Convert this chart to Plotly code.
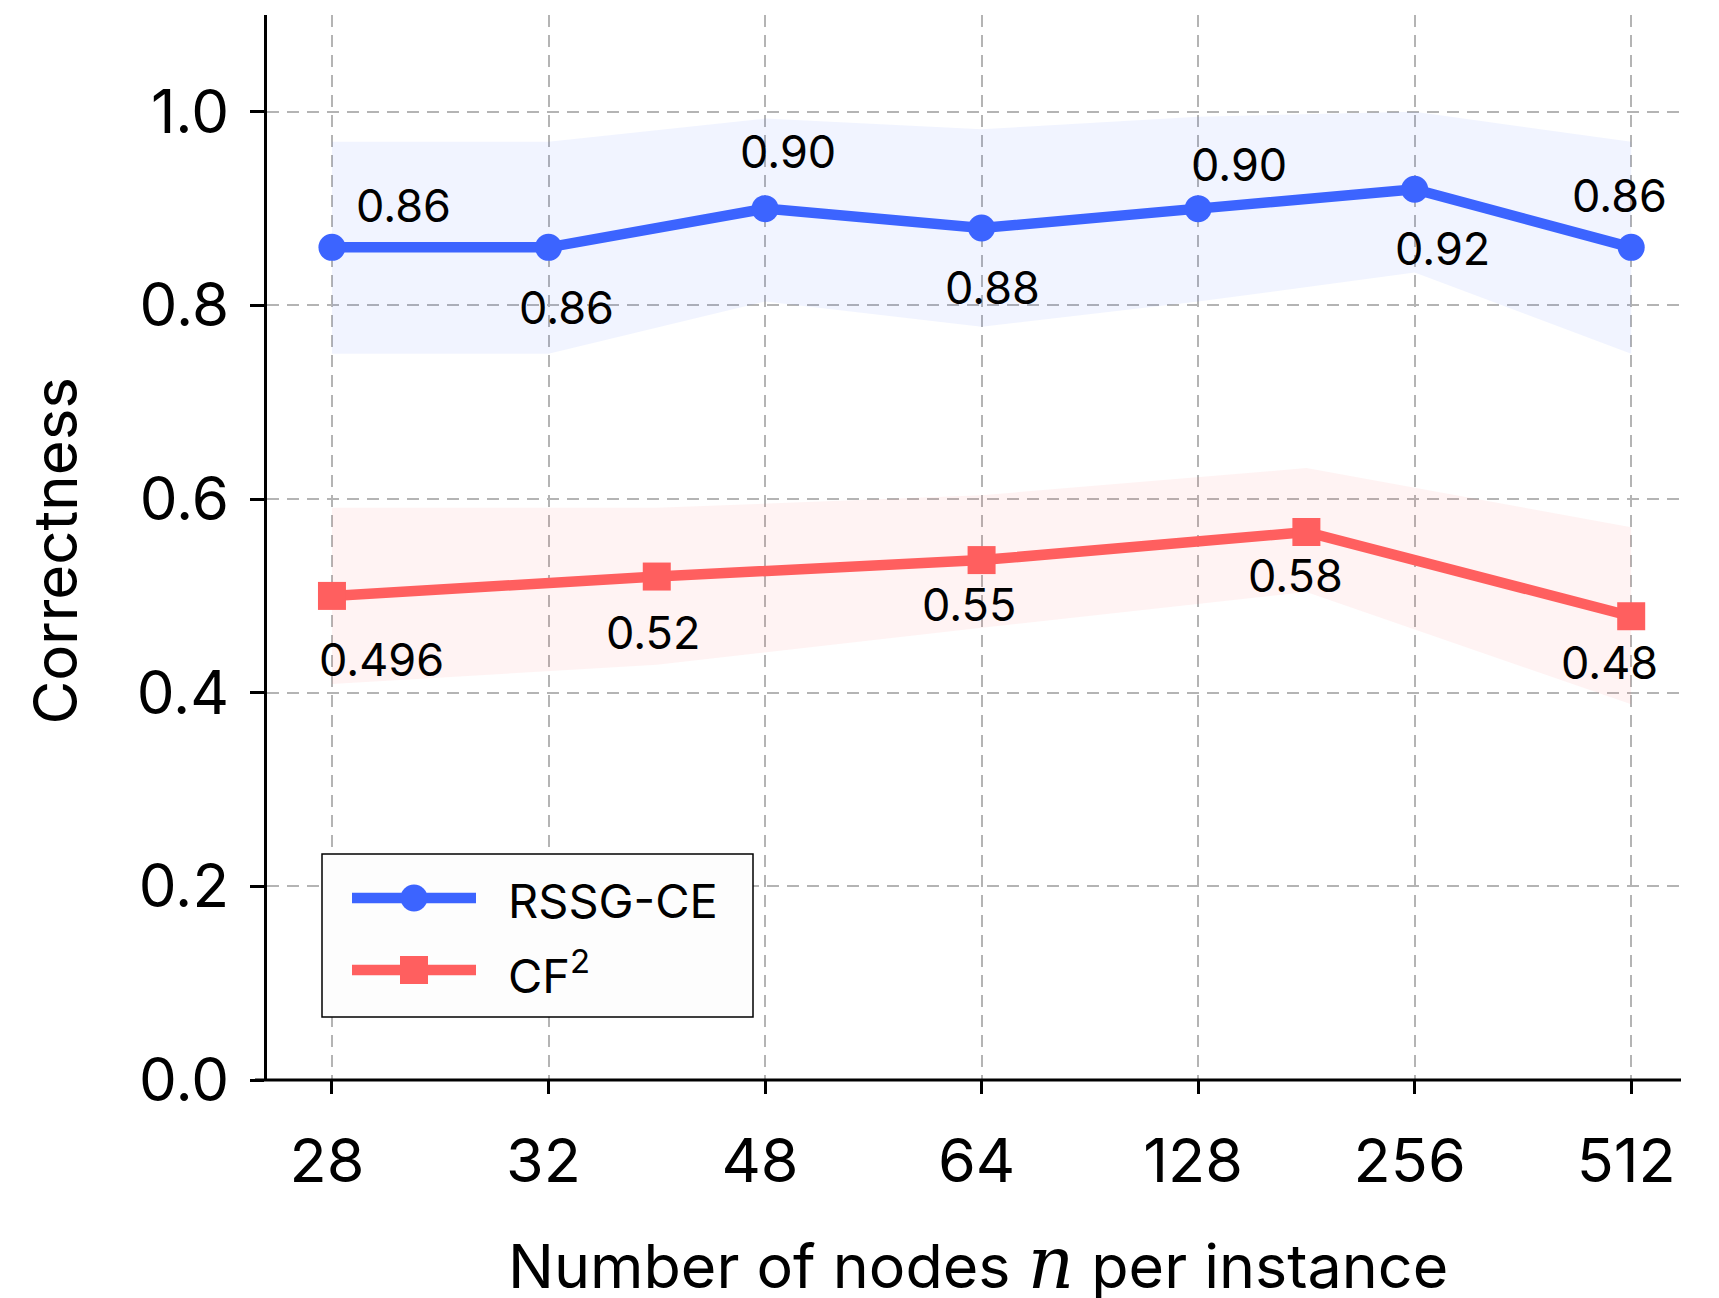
import plotly.graph_objects as go

# ---------------- data ----------------
x_labels = ["28", "32", "48", "64", "128", "256", "512"]

rssg_x = [0, 1, 2, 3, 4, 5, 6]
rssg_y = [0.86, 0.86, 0.90, 0.88, 0.90, 0.92, 0.86]
rssg_hi = [0.969, 0.969, 0.993, 0.982, 0.995, 1.0, 0.969]
rssg_lo = [0.75, 0.75, 0.804, 0.778, 0.804, 0.834, 0.75]
rssg_text = ["0.86", "0.86", "0.90", "0.88", "0.90", "0.92", "0.86"]

cf2_x = [0, 1.5, 3, 4.5, 6]
cf2_y = [0.50, 0.52, 0.537, 0.566, 0.479]
cf2_hi = [0.591, 0.591, 0.604, 0.632, 0.571]
cf2_lo = [0.409, 0.429, 0.467, 0.504, 0.388]
cf2_text = ["0.496", "0.52", "0.55", "0.58", "0.48"]

y_ticks = [0.0, 0.2, 0.4, 0.6, 0.8, 1.0]

# ---------------- style ----------------
BLUE = "#3C64FF"
RED = "#FF5F5F"
BLUE_BAND = "rgba(60,100,255,0.07)"
RED_BAND = "rgba(255,95,95,0.075)"
FONT = "Inter"
GRID = "#b4b4b4"

# label offsets in pixels (dx right, dy down)
rssg_off = [(72, -42), (18, 60), (23, -57), (11, 59), (41, -44), (28, 59), (-12, -52)]
cf2_off = [(50, 64), (-4, 56), (-13, 44), (-11, 43), (-22, 46)]

fig = go.Figure()

# bands
fig.add_trace(go.Scatter(x=rssg_x + rssg_x[::-1], y=rssg_hi + rssg_lo[::-1],
                         fill="toself", fillcolor=BLUE_BAND, line=dict(width=0),
                         mode="lines", hoverinfo="skip", showlegend=False))
fig.add_trace(go.Scatter(x=cf2_x + cf2_x[::-1], y=cf2_hi + cf2_lo[::-1],
                         fill="toself", fillcolor=RED_BAND, line=dict(width=0),
                         mode="lines", hoverinfo="skip", showlegend=False))

# lines
fig.add_trace(go.Scatter(x=rssg_x, y=rssg_y, mode="lines+markers", name="RSSG-CE",
                         line=dict(color=BLUE, width=10.5),
                         marker=dict(symbol="circle", size=27, color=BLUE),
                         showlegend=False))
fig.add_trace(go.Scatter(x=cf2_x, y=cf2_y, mode="lines+markers", name="CF<sup>2</sup>",
                         line=dict(color=RED, width=10.5),
                         marker=dict(symbol="square", size=28, color=RED),
                         showlegend=False))

annotations = []
for xv, yv, t, (dx, dy) in zip(rssg_x, rssg_y, rssg_text, rssg_off):
    annotations.append(dict(x=xv, y=yv, xref="x", yref="y", text=t, showarrow=False,
                            xshift=dx, yshift=-dy, xanchor="center", yanchor="middle",
                            font=dict(family=FONT, size=45, color="black")))
for xv, yv, t, (dx, dy) in zip(cf2_x, cf2_y, cf2_text, cf2_off):
    annotations.append(dict(x=xv, y=yv, xref="x", yref="y", text=t, showarrow=False,
                            xshift=dx, yshift=-dy, xanchor="center", yanchor="middle",
                            font=dict(family=FONT, size=45, color="black")))

# axis titles
annotations.append(dict(x=0.503, y=-0.172, xref="paper", yref="paper",
                        text="Number of nodes <span style=\"font-family:'DejaVu Serif';font-size:72px\"><i>n</i></span> per instance",
                        showarrow=False, xanchor="center", yanchor="middle",
                        font=dict(family=FONT, size=61, color="black")))
annotations.append(dict(x=-0.150, y=0.497, xref="paper", yref="paper",
                        text="Correctness", textangle=-90,
                        showarrow=False, xanchor="center", yanchor="middle",
                        font=dict(family=FONT, size=60, color="black")))

# legend (manual)
PL, PW = 267, 1414
PT, PH = 15, 1065
def px(xp):
    return (xp - PL) / PW
def py(yp):
    return (PT + PH - yp) / PH

shapes = []
shapes.append(dict(type="rect", xref="paper", yref="paper",
                   x0=px(322), x1=px(753), y0=py(1017), y1=py(854),
                   line=dict(color="black", width=1.5), fillcolor="rgba(253,253,253,1)",
                   layer="above"))
legend_items = [("RSSG-CE", BLUE, "circle", 898), ("CF<sup>2</sup>", RED, "square", 970)]
for name, col, sym, yy in legend_items:
    shapes.append(dict(type="line", xref="paper", yref="paper",
                       x0=px(352), x1=px(476), y0=py(yy), y1=py(yy),
                       line=dict(color=col, width=10.5), layer="above"))
    if sym == "circle":
        shapes.append(dict(type="circle", xref="paper", yref="paper",
                           x0=px(414 - 13.5), x1=px(414 + 13.5), y0=py(yy + 13.5), y1=py(yy - 13.5),
                           line=dict(width=0), fillcolor=col, layer="above"))
    else:
        shapes.append(dict(type="rect", xref="paper", yref="paper",
                           x0=px(414 - 14), x1=px(414 + 14), y0=py(yy + 14), y1=py(yy - 14),
                           line=dict(width=0), fillcolor=col, layer="above"))
    annotations.append(dict(x=px(506), y=py(yy + 2), xref="paper", yref="paper", text=name,
                            showarrow=False, xanchor="left", yanchor="middle",
                            font=dict(family=FONT, size=47, color="black")))

# x-axis baseline (extends slightly left of y spine)
shapes.append(dict(type="line", xref="paper", yref="paper", x0=px(255), x1=1, y0=0, y1=0,
                   line=dict(color="black", width=3), layer="above"))

fig.update_layout(
    width=1719, height=1298,
    margin=dict(l=PL, r=1719 - PL - PW, t=PT, b=1298 - PT - PH, pad=0),
    paper_bgcolor="white", plot_bgcolor="white",
    showlegend=False,
    annotations=annotations,
    shapes=shapes,
    font=dict(family=FONT, color="black"),
)
fig.update_xaxes(range=[-0.30, 6.23], tickvals=list(range(len(x_labels))), ticktext=x_labels,
                 showgrid=True, gridcolor=GRID, griddash="12px,8px", gridwidth=1.5,
                 ticks="outside", ticklen=13, tickwidth=2.5, tickcolor="black",
                 tickfont=dict(family=FONT, size=61, color="black"),
                 ticklabelstandoff=15, ticklabelshift=-5,
                 showline=False, zeroline=False, fixedrange=True)
fig.update_yaxes(range=[0, 1.1], tickvals=y_ticks, ticktext=[f"{v:.1f}" for v in y_ticks],
                 showgrid=True, gridcolor=GRID, griddash="12px,8px", gridwidth=1.5,
                 ticks="outside", ticklen=14, tickwidth=2.5, tickcolor="black",
                 tickfont=dict(family=FONT, size=60, color="black"),
                 ticklabelstandoff=9,
                 showline=True, linecolor="black", linewidth=3, mirror=False,
                 zeroline=False, fixedrange=True)

fig.write_html("out.html")
